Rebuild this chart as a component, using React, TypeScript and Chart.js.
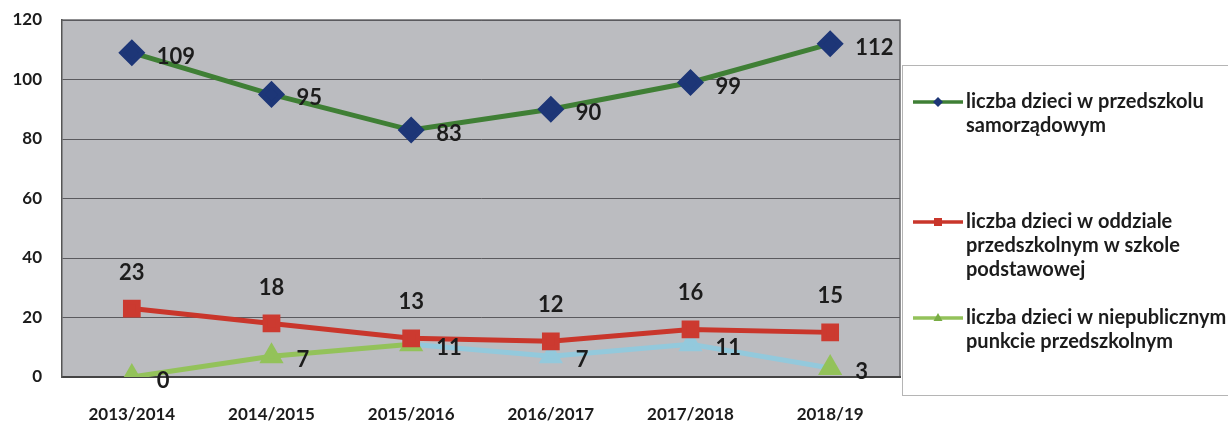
import React, { useEffect, useRef } from "react";
import { Chart, registerables } from "chart.js";

Chart.register(...registerables);

const categories = ["2013/2014", "2014/2015", "2015/2016", "2016/2017", "2017/2018", "2018/19"];
const przedszkoleValues = [109, 95, 83, 90, 99, 112];
const oddzialValues = [23, 18, 13, 12, 16, 15];
const niepublicznyValues = [0, 7, 11, 7, 11, 3];
const seriesNames = [
  ["liczba dzieci w przedszkolu", "samorządowym"],
  ["liczba dzieci w oddziale", "przedszkolnym w szkole", "podstawowej"],
  ["liczba dzieci w niepublicznym", "punkcie przedszkolnym"],
];
const yTicks = [0, 20, 40, 60, 80, 100, 120];

const FONT = "Lato, 'Open Sans', sans-serif";

const plotBg = {
  id: "plotBg",
  beforeDraw(chart: any) {
    const { ctx, chartArea: a } = chart;
    ctx.save();
    ctx.fillStyle = "#bbbcc0";
    ctx.fillRect(a.left, a.top, a.right - a.left, a.bottom - a.top);
    ctx.strokeStyle = "#6b6b6e";
    ctx.lineWidth = 1.5;
    ctx.beginPath();
    ctx.moveTo(a.left, a.top);
    ctx.lineTo(a.right, a.top);
    ctx.lineTo(a.right, a.bottom);
    ctx.stroke();
    ctx.restore();
  },
};

const dataLabels = {
  id: "dataLabels",
  afterDatasetsDraw(chart: any) {
    const { ctx } = chart;
    ctx.save();
    ctx.font = `bold 22px ${FONT}`;
    ctx.fillStyle = "#1c1c1c";
    ctx.textBaseline = "middle";
    chart.data.datasets.forEach((ds: any, di: number) => {
      const meta = chart.getDatasetMeta(di);
      meta.data.forEach((pt: any, i: number) => {
        const v = ds.data[i];
        if (di === 1) {
          ctx.textAlign = "center";
          ctx.fillText(String(v), pt.x, pt.y - 36);
        } else {
          ctx.textAlign = "left";
          ctx.fillText(String(v), pt.x + 25, pt.y + 4);
        }
      });
    });
    ctx.restore();
  },
};

function marker(ctx: CanvasRenderingContext2D, style: string, x: number, y: number, r: number) {
  ctx.beginPath();
  if (style === "rectRot") {
    ctx.moveTo(x, y - r);
    ctx.lineTo(x + r, y);
    ctx.lineTo(x, y + r);
    ctx.lineTo(x - r, y);
  } else if (style === "rect") {
    ctx.rect(x - r * 0.8, y - r * 0.8, r * 1.6, r * 1.6);
  } else {
    ctx.moveTo(x, y - r);
    ctx.lineTo(x + r * 0.9, y + r * 0.6);
    ctx.lineTo(x - r * 0.9, y + r * 0.6);
  }
  ctx.closePath();
  ctx.fill();
}

const customLegend = {
  id: "customLegend",
  afterDraw(chart: any) {
    const { ctx } = chart;
    ctx.save();
    ctx.strokeStyle = "#b5b5b5";
    ctx.lineWidth = 1;
    ctx.strokeRect(902.5, 65.5, 340, 330);
    const items = [
      { y: 102, line: "#3f7f35", marker: "#1d3677", style: "rectRot" },
      { y: 222, line: "#c9362b", marker: "#c9362b", style: "rect" },
      { y: 318, line: "#93c25a", marker: "#79ad45", style: "triangle" },
    ];
    items.forEach((it, idx) => {
      ctx.strokeStyle = it.line;
      ctx.lineWidth = 3.5;
      ctx.beginPath();
      ctx.moveTo(913, it.y);
      ctx.lineTo(963, it.y);
      ctx.stroke();
      ctx.fillStyle = it.marker;
      marker(ctx, it.style, 938, it.y, 5);
      ctx.fillStyle = "#1c1c1c";
      ctx.font = `bold 20px ${FONT}`;
      ctx.textAlign = "left";
      ctx.textBaseline = "middle";
      seriesNames[idx].forEach((t, li) => {
        ctx.fillText(t, 966, it.y + li * 24);
      });
    });
    ctx.restore();
  },
};

export default function App() {
  const ref = useRef<HTMLCanvasElement>(null);
  useEffect(() => {
    document.body.style.margin = "0";
    document.body.style.background = "#ffffff";
    const green = "#93c25a";
    const lightBlue = "#93c9dc";
    const chart = new Chart(ref.current!, {
      type: "line",
      data: {
        labels: categories,
        datasets: [
          {
            label: seriesNames[0].join(" "),
            data: przedszkoleValues,
            borderColor: "#3f7f35",
            backgroundColor: "#1d3677",
            pointBackgroundColor: "#1d3677",
            pointBorderColor: "#1d3677",
            pointStyle: "rectRot",
            pointRadius: 10,
            borderWidth: 5,
          },
          {
            label: seriesNames[1].join(" "),
            data: oddzialValues,
            borderColor: "#c9362b",
            backgroundColor: "#c9362b",
            pointBackgroundColor: "#cc3a30",
            pointBorderColor: "#cc3a30",
            pointStyle: "rect",
            pointRadius: 9,
            borderWidth: 5,
          },
          {
            label: seriesNames[2].join(" "),
            data: niepublicznyValues,
            borderColor: green,
            backgroundColor: green,
            pointBackgroundColor: [green, green, green, lightBlue, lightBlue, green],
            pointBorderColor: [green, green, green, lightBlue, lightBlue, green],
            pointStyle: "triangle",
            pointRadius: 9,
            borderWidth: 5,
            segment: {
              borderColor: (c: any) => (c.p0DataIndex >= 2 ? lightBlue : green),
            },
          },
        ],
      },
      options: {
        animation: false,
        responsive: false,
        layout: { padding: { top: 20, right: 328, left: 0, bottom: 0 } },
        plugins: { legend: { display: false }, tooltip: { enabled: false } },
        scales: {
          x: {
            offset: true,
            grid: { display: false, drawTicks: false },
            border: { color: "#444", width: 2 },
            ticks: { color: "#1c1c1c", font: { family: FONT, size: 17, weight: "bold" }, padding: 27, maxRotation: 0 },
            afterFit: (s: any) => { s.height = 48; },
          },
          y: {
            min: 0,
            max: 120,
            afterBuildTicks: (s: any) => { s.ticks = yTicks.map((v) => ({ value: v })); },
            grid: { color: "#5a5a5e", lineWidth: 1, drawTicks: false },
            border: { color: "#555", width: 1.5 },
            ticks: { color: "#1c1c1c", font: { family: FONT, size: 17, weight: "bold" }, padding: 20 },
            afterFit: (s: any) => { s.width = 62; s.paddingTop = 0; s.paddingBottom = 0; },
          },
        },
      },
      plugins: [plotBg, dataLabels, customLegend],
    });
    return () => chart.destroy();
  }, []);
  return <canvas ref={ref} width={1228} height={425} style={{ display: "block" }} />;
}
